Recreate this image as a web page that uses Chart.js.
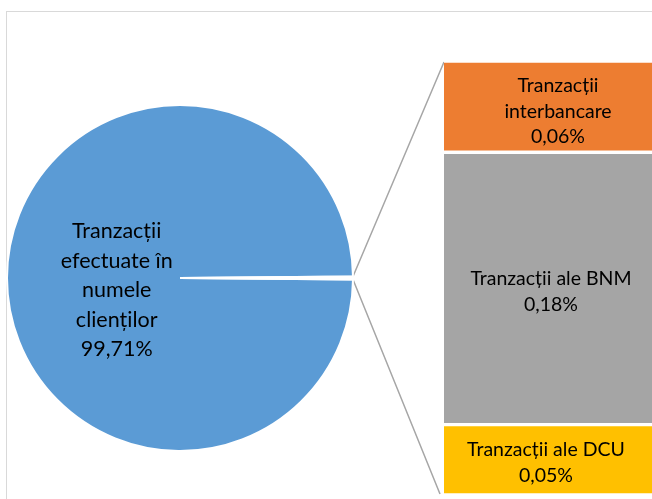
<!DOCTYPE html>
<html>
<head>
<meta charset="utf-8">
<script src="https://cdn.jsdelivr.net/npm/chart.js@4"></script>
<style>
  html, body { margin: 0; padding: 0; background: #fff; overflow: hidden; }
  body { width: 652px; height: 499px; position: relative; }
  #frame { position: absolute; left: 6px; top: 11px; width: 700px; height: 600px; border: 1.5px solid #d9d9d9; }
  #pieBox { position: absolute; left: 6px; top: 104px; width: 348px; height: 348px; }
  #barBox { position: absolute; left: 444px; top: 61px; width: 230px; height: 434px; }
  #lines { position: absolute; left: 0; top: 0; }
</style>
</head>
<body>
<div id="frame"></div>
<canvas id="lines" width="652" height="499"></canvas>
<div id="pieBox"><canvas id="pieChart"></canvas></div>
<div id="barBox"><canvas id="barChart"></canvas></div>
<script>
// pie: main slice + the aggregated "other" slice split out into the bar
const pieLabels = ['Tranzacții efectuate în numele clienților', 'Alte tranzacții'];
const pieValues = [99.71, 0.29];
const pieText = ['Tranzacții', 'efectuate în', 'numele', 'clienților', '99,71%'];

// bar segments, bottom to top
const barLabels = ['Tranzacții ale DCU', 'Tranzacții ale BNM', 'Tranzacții interbancare'];
const barValues = [0.047, 0.182, 0.061];
const barText = [
  ['Tranzacții ale DCU', '0,05%'],
  ['Tranzacții ale BNM', '0,18%'],
  ['Tranzacții', 'interbancare', '0,06%']
];
const barColors = ['#ffc000', '#a5a5a5', '#ed7d31'];

const FONT = 'Lato, "Open Sans", sans-serif';

const pieLabelPlugin = {
  id: 'pieLabel',
  afterDraw(chart) {
    const arc = chart.getDatasetMeta(0).data[0];
    const ctx = chart.ctx;
    const r = arc.outerRadius;
    const cx = arc.x - 0.366 * r;
    const cy = arc.y + 0.07 * r;
    const lh = 29.5;
    ctx.save();
    ctx.font = '21.5px ' + FONT;
    ctx.fillStyle = '#000';
    ctx.textAlign = 'center';
    ctx.textBaseline = 'middle';
    pieText.forEach((t, i) => {
      ctx.fillText(t, cx, cy + (i - (pieText.length - 1) / 2) * lh);
    });
    ctx.restore();
  }
};

const barLabelPlugin = {
  id: 'barLabel',
  afterDraw(chart) {
    const ctx = chart.ctx;
    const shiftX = [-13, -8, -1]; // label offset from bar centre
    const shiftY = [3, 3, 5];
    ctx.save();
    ctx.font = '19.5px ' + FONT;
    ctx.fillStyle = '#000';
    ctx.textAlign = 'center';
    ctx.textBaseline = 'middle';
    barText.forEach((lines, i) => {
      const el = chart.getDatasetMeta(i).data[0];
      const cy = (el.y + el.base) / 2 + shiftY[i];
      const lh = 25.5;
      lines.forEach((t, j) => {
        ctx.fillText(t, el.x + shiftX[i], cy + (j - (lines.length - 1) / 2) * lh);
      });
    });
    ctx.restore();
  }
};

const pieChart = new Chart(document.getElementById('pieChart'), {
  type: 'pie',
  data: {
    labels: pieLabels,
    datasets: [{
      data: pieValues,
      backgroundColor: ['#5b9bd5', '#ffffff'],
      borderColor: '#ffffff',
      borderWidth: 2
    }]
  },
  options: {
    responsive: true,
    maintainAspectRatio: false,
    animation: false,
    rotation: 90 + pieValues[1] * 3.6 / 2,
    layout: { padding: 0 },
    plugins: { legend: { display: false }, tooltip: { enabled: false } }
  },
  plugins: [pieLabelPlugin]
});

const barChart = new Chart(document.getElementById('barChart'), {
  type: 'bar',
  data: {
    labels: ['Alte'],
    datasets: barLabels.map((lab, i) => ({
      label: lab,
      data: [barValues[i]],
      backgroundColor: barColors[i],
      borderColor: '#ffffff',
      borderWidth: { top: 2, bottom: 2, left: 0, right: 0 },
      borderSkipped: false,
      barPercentage: 1,
      categoryPercentage: 1
    }))
  },
  options: {
    responsive: true,
    maintainAspectRatio: false,
    animation: false,
    layout: { padding: 0 },
    scales: {
      x: { display: false, stacked: true },
      y: { display: false, stacked: true, min: 0, max: barValues.reduce((a, b) => a + b, 0) }
    },
    plugins: { legend: { display: false }, tooltip: { enabled: false } }
  },
  plugins: [barLabelPlugin]
});

// connector lines from the split slice to the bar
function drawConnectors() {
  const ctx = document.getElementById('lines').getContext('2d');
  const pieBox = document.getElementById('pieBox');
  const barBox = document.getElementById('barBox');
  const arc = pieChart.getDatasetMeta(0).data[1];
  const px = pieBox.offsetLeft, py = pieBox.offsetTop;
  const bx = barBox.offsetLeft, by = barBox.offsetTop;
  const top = barChart.getDatasetMeta(2).data[0];
  const bottom = barChart.getDatasetMeta(0).data[0];
  const left = bx + top.x - top.width / 2;
  const r = arc.outerRadius;
  const a1 = arc.startAngle, a2 = arc.endAngle;
  ctx.strokeStyle = '#a6a6a6';
  ctx.lineWidth = 1.5;
  ctx.beginPath();
  ctx.moveTo(px + arc.x + r * Math.cos(a1), py + arc.y + r * Math.sin(a1));
  ctx.lineTo(left, by + top.y + 1);
  ctx.moveTo(px + arc.x + r * Math.cos(a2), py + arc.y + r * Math.sin(a2));
  ctx.lineTo(left - 4, by + bottom.base - 1);
  ctx.stroke();
}
drawConnectors();
</script>
</body>
</html>
